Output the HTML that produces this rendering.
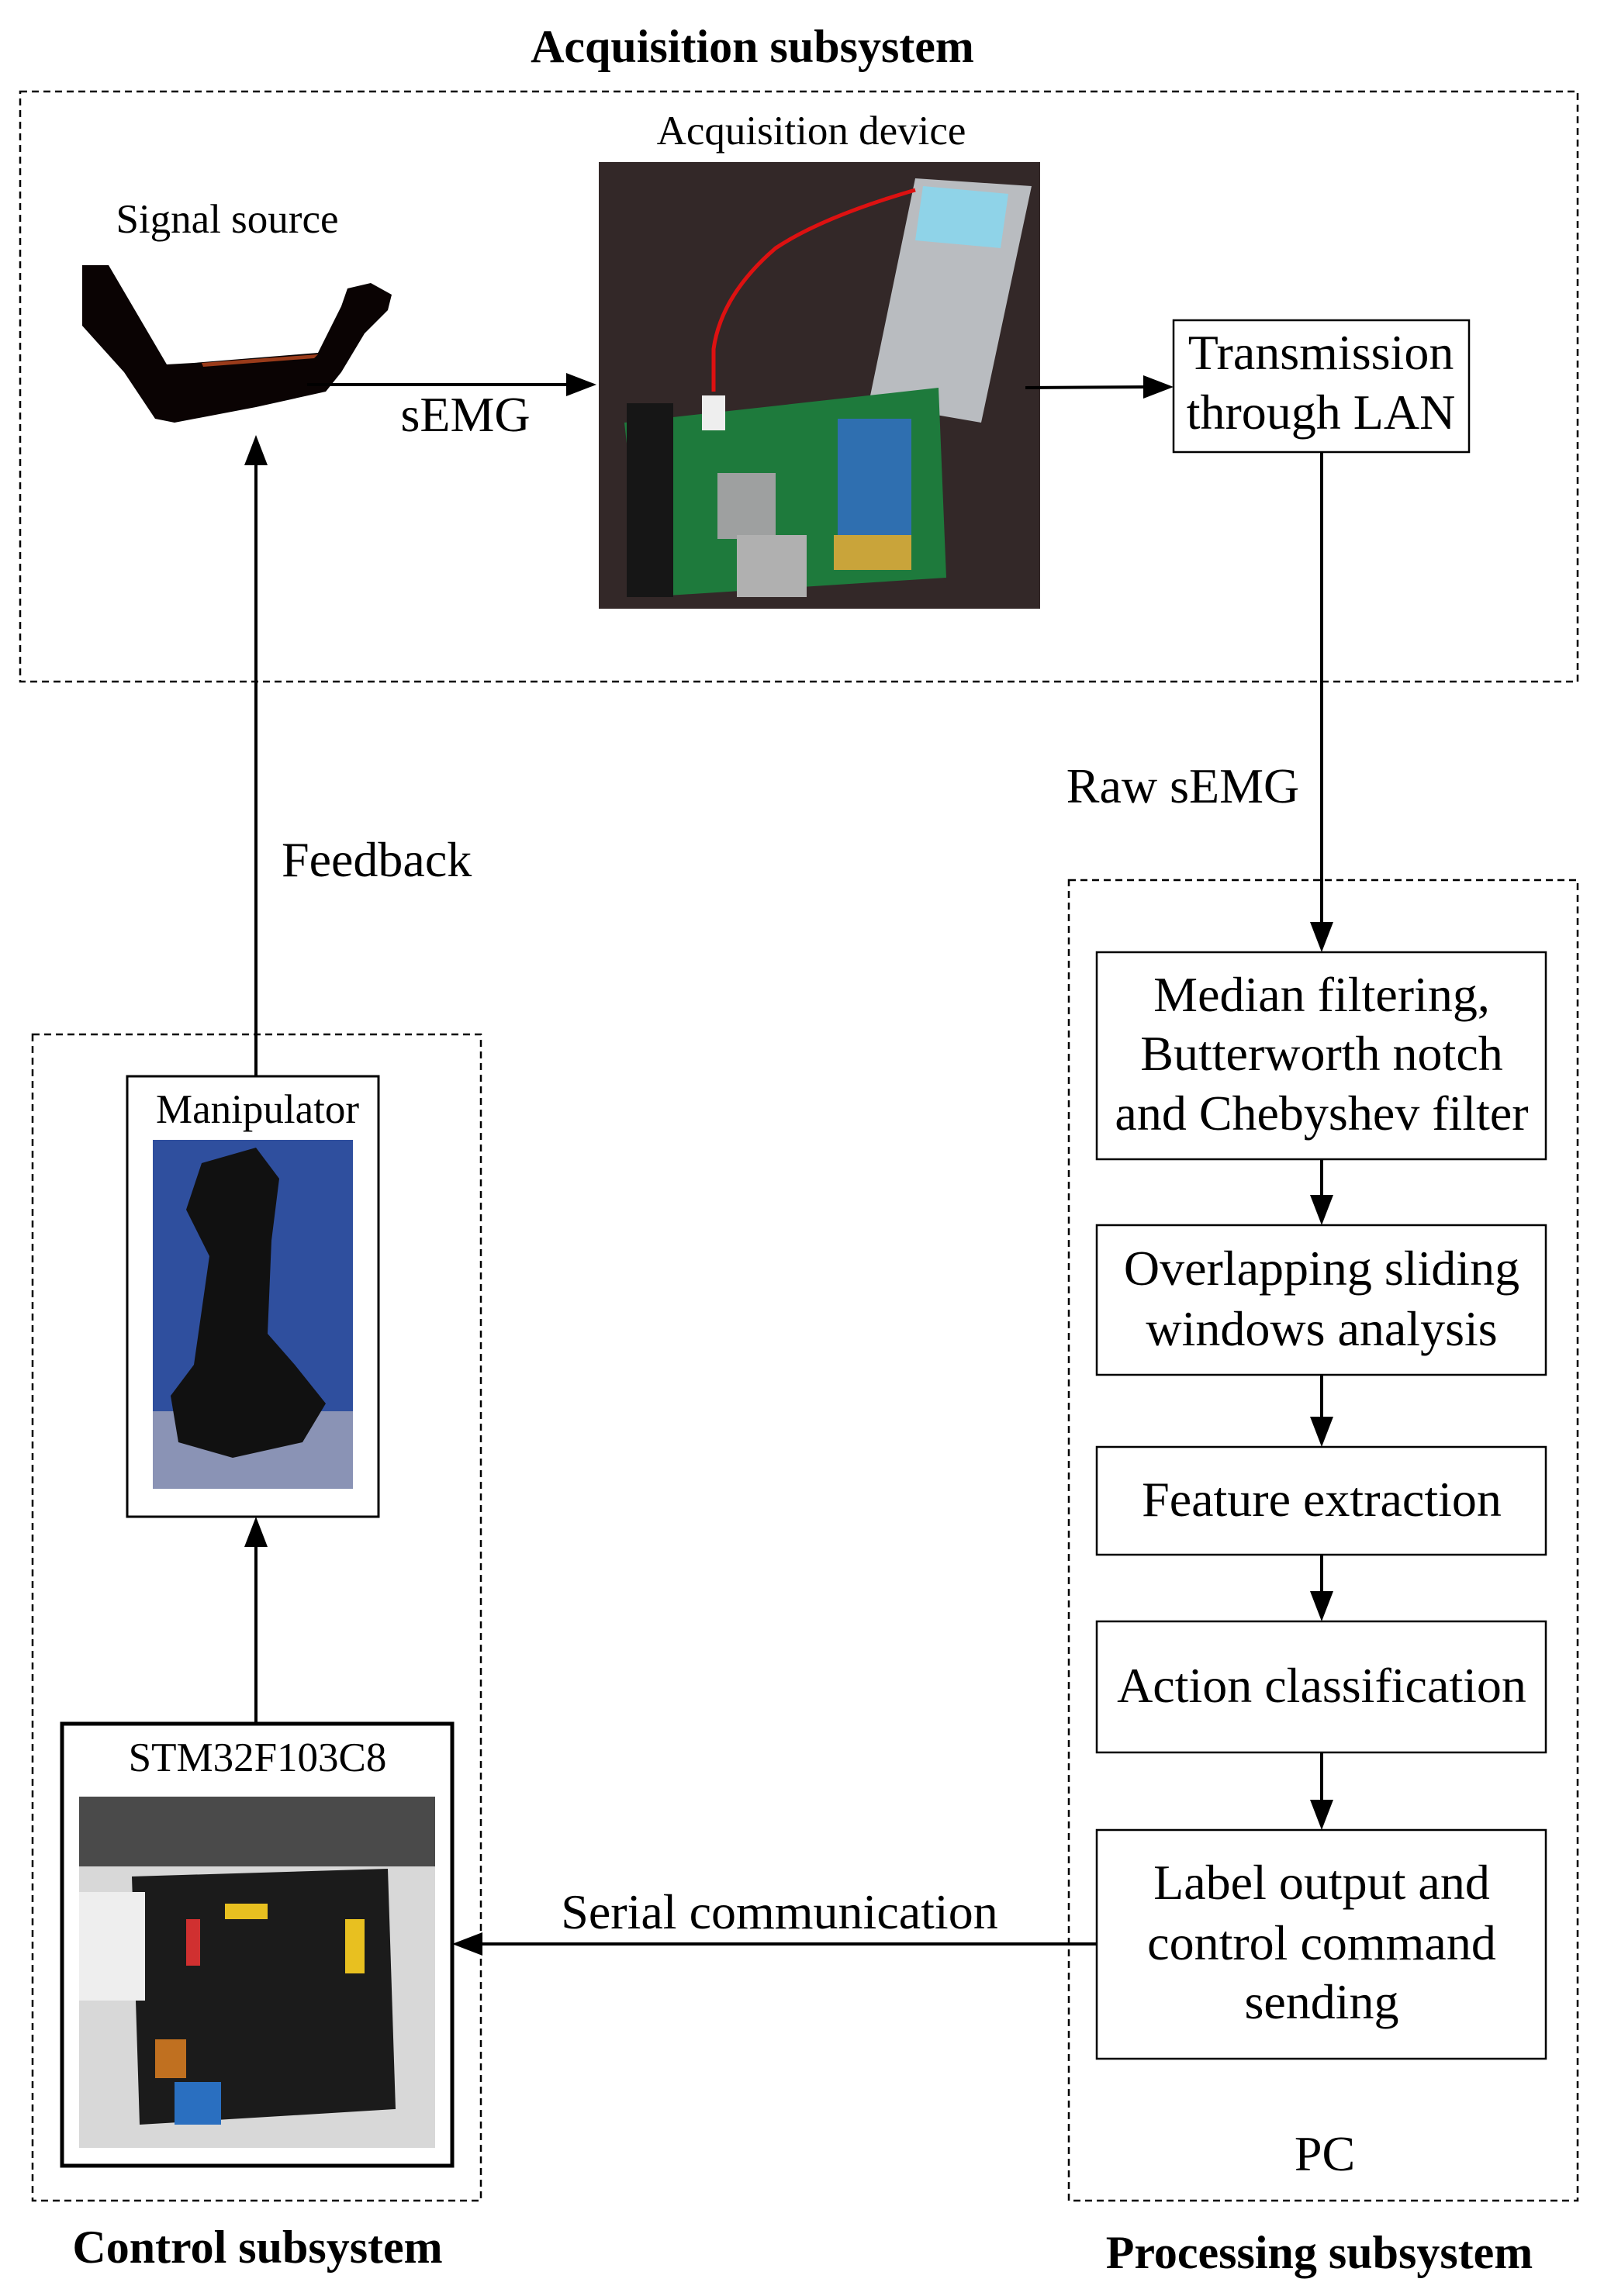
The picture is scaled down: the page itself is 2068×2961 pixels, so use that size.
<!DOCTYPE html>
<html><head><meta charset="utf-8"><style>
html,body{margin:0;padding:0;background:#fff;}
svg{display:block;}
text{font-family:"Liberation Serif",serif;fill:#000;}
</style></head><body>
<svg width="2068" height="2961" viewBox="0 0 2068 2961" xmlns="http://www.w3.org/2000/svg">
<!-- Titles -->
<text x="970" y="80" font-size="60" font-weight="bold" text-anchor="middle">Acquisition subsystem</text>
<text x="332" y="2918" font-size="60" font-weight="bold" text-anchor="middle">Control subsystem</text>
<text x="1701" y="2925" font-size="60" font-weight="bold" text-anchor="middle">Processing subsystem</text>

<!-- dashed boxes -->
<rect x="26" y="118" width="2008" height="761" fill="none" stroke="#000" stroke-width="2.5" stroke-dasharray="9,6"/>
<rect x="42" y="1334" width="578" height="1504" fill="none" stroke="#000" stroke-width="2.5" stroke-dasharray="9,6"/>
<rect x="1378" y="1135" width="656" height="1703" fill="none" stroke="#000" stroke-width="2.5" stroke-dasharray="9,6"/>

<!-- Acquisition -->
<text x="293" y="300" font-size="53" text-anchor="middle">Signal source</text>
<text x="1046" y="186" font-size="53" text-anchor="middle">Acquisition device</text>
<!-- arm -->
<polygon points="106,342 140,342 215,470 250,468 410,455 440,395 448,372 478,365 505,380 500,400 470,430 440,480 420,505 330,525 225,545 200,540 160,480 106,420" fill="#0a0303"/>
<polygon points="260,468 410,457 405,462 262,473" fill="#9a3b1a"/>
<!-- acquisition device photo -->
<rect x="772" y="209" width="569" height="576" fill="#332828"/>
<polygon points="1180,230 1330,240 1265,545 1120,520" fill="#b9bcc0"/>
<polygon points="1190,240 1300,250 1290,320 1180,310" fill="#8fd3e8"/>
<path d="M920,505 L920,450 Q930,380 1000,320 Q1060,280 1180,245" fill="none" stroke="#d11" stroke-width="5"/>
<polygon points="805,545 1210,500 1220,745 830,770" fill="#1e7a3c"/>
<rect x="808" y="520" width="60" height="250" fill="#161616"/>
<rect x="1080" y="540" width="95" height="150" fill="#2f6fb0"/>
<rect x="1075" y="690" width="100" height="45" fill="#c9a43a"/>
<rect x="925" y="610" width="75" height="85" fill="#9ea0a0"/>
<rect x="950" y="690" width="90" height="80" fill="#b0b0b0"/>
<rect x="905" y="510" width="30" height="45" fill="#eee"/>

<!-- sEMG arrow -->
<line x1="396" y1="496" x2="740" y2="496" stroke="#000" stroke-width="4"/>
<polygon points="769,496 730,481 730,511" fill="#000"/>
<text x="600" y="556" font-size="64" text-anchor="middle">sEMG</text>
<!-- to transmission -->
<line x1="1322" y1="500" x2="1485" y2="499" stroke="#000" stroke-width="4"/>
<polygon points="1513,499 1474,484 1474,514" fill="#000"/>
<rect x="1513" y="413" width="381" height="170" fill="#fff" stroke="#000" stroke-width="2.5"/>
<text x="1703" y="476" font-size="64" text-anchor="middle">Transmission</text>
<text x="1703" y="553" font-size="64" text-anchor="middle">through LAN</text>

<!-- Raw sEMG -->
<line x1="1704" y1="583" x2="1704" y2="1200" stroke="#000" stroke-width="4"/>
<polygon points="1704,1228 1689,1189 1719,1189" fill="#000"/>
<text x="1525" y="1035" font-size="64" text-anchor="middle">Raw sEMG</text>

<!-- Feedback -->
<line x1="330" y1="1388" x2="330" y2="590" stroke="#000" stroke-width="4"/>
<polygon points="330,561 315,600 345,600" fill="#000"/>
<text x="363" y="1130" font-size="64">Feedback</text>

<!-- Processing boxes -->
<g fill="#fff" stroke="#000" stroke-width="2.5">
<rect x="1414" y="1228" width="579" height="267"/>
<rect x="1414" y="1580" width="579" height="193"/>
<rect x="1414" y="1866" width="579" height="139"/>
<rect x="1414" y="2091" width="579" height="169"/>
<rect x="1414" y="2360" width="579" height="295"/>
</g>
<g font-size="64" text-anchor="middle">
<text x="1704" y="1304">Median filtering,</text>
<text x="1704" y="1380">Butterworth notch</text>
<text x="1704" y="1457">and Chebyshev filter</text>
<text x="1704" y="1657">Overlapping sliding</text>
<text x="1704" y="1735">windows analysis</text>
<text x="1704" y="1955">Feature extraction</text>
<text x="1704" y="2195">Action classification</text>
<text x="1704" y="2449">Label output and</text>
<text x="1704" y="2527">control command</text>
<text x="1704" y="2603">sending</text>
<text x="1708" y="2799">PC</text>
</g>
<g stroke="#000" stroke-width="4">
<line x1="1704" y1="1495" x2="1704" y2="1555"/>
<line x1="1704" y1="1773" x2="1704" y2="1840"/>
<line x1="1704" y1="2005" x2="1704" y2="2065"/>
<line x1="1704" y1="2260" x2="1704" y2="2335"/>
</g>
<g fill="#000">
<polygon points="1704,1580 1689,1541 1719,1541"/>
<polygon points="1704,1866 1689,1827 1719,1827"/>
<polygon points="1704,2091 1689,2052 1719,2052"/>
<polygon points="1704,2360 1689,2321 1719,2321"/>
</g>

<!-- Serial communication -->
<line x1="1414" y1="2507" x2="612" y2="2507" stroke="#000" stroke-width="4"/>
<polygon points="583,2507 622,2492 622,2522" fill="#000"/>
<text x="1005" y="2487" font-size="64" text-anchor="middle">Serial communication</text>

<!-- Manipulator -->
<rect x="164" y="1388" width="324" height="568" fill="#fff" stroke="#000" stroke-width="3"/>
<text x="332" y="1448" font-size="53" text-anchor="middle">Manipulator</text>
<rect x="197" y="1470" width="258" height="450" fill="#2f4f9e"/>
<rect x="197" y="1820" width="258" height="100" fill="#8a93b5"/>
<polygon points="260,1500 330,1480 360,1520 350,1600 345,1720 380,1760 420,1810 390,1860 300,1880 230,1860 220,1800 250,1760 270,1620 240,1560" fill="#111"/>
<!-- STM -->
<line x1="330" y1="2223" x2="330" y2="1985" stroke="#000" stroke-width="4"/>
<polygon points="330,1956 315,1995 345,1995" fill="#000"/>
<rect x="80" y="2223" width="503" height="570" fill="#fff" stroke="#000" stroke-width="5"/>
<text x="332" y="2284" font-size="53" text-anchor="middle">STM32F103C8</text>
<rect x="102" y="2317" width="459" height="453" fill="#d8d8d8"/>
<rect x="102" y="2317" width="459" height="90" fill="#4a4a4a"/>
<polygon points="170,2420 500,2410 510,2720 180,2740" fill="#1b1b1b"/>
<rect x="290" y="2455" width="55" height="20" fill="#e8c020"/>
<rect x="240" y="2475" width="18" height="60" fill="#d03030"/>
<rect x="445" y="2475" width="25" height="70" fill="#e8c020"/>
<rect x="225" y="2685" width="60" height="55" fill="#2a6fc0"/>
<rect x="200" y="2630" width="40" height="50" fill="#c07020"/>
<rect x="102" y="2440" width="85" height="140" fill="#eee"/>
</svg>
</body></html>
